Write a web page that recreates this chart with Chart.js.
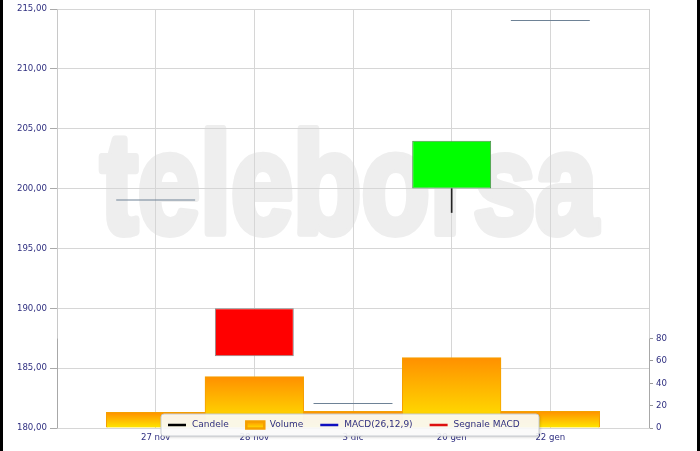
<!DOCTYPE html>
<html>
<head>
<meta charset="utf-8">
<script src="https://cdn.jsdelivr.net/npm/chart.js@4.4.1/dist/chart.umd.min.js"></script>
<style>
body { margin: 0; background: #000; }
#wrap { position: absolute; left: 3px; top: 0; width: 694px; height: 451px; background: #fff; }
</style>
</head>
<body>
<div id="wrap"><canvas id="chart"></canvas></div>
<script>
// empty labels at both ends leave the half-slot gap the original has
const labels = ['', '27 nov', '28 nov', '3 dic', '20 gen', '22 gen', ''];
const openP  = [null, 199, 190, 182, 200, 214, null];
const highP  = [null, 199, 190, 182, 204, 214, null];
const lowP   = [null, 199, 186, 182, 198, 214, null];
const closeP = [null, 199, 186, 182, 204, 214, null];
const volume = [null, 14, 46, 15, 63, 15, null];
const macd = [];
const signalMacd = [];
const volumeTicks = [0, 20, 40, 60, 80];

const navy = '#2f2f80';
const gridColor = '#d6d6d6';
const font = { family: 'DejaVu Sans', size: 8.6 };

function isFlat(i) { return openP[i] === closeP[i]; }

function candleColor(i) {
    if (closeP[i] > openP[i]) return '#00ff00';
    if (closeP[i] < openP[i]) return '#ff0000';
    return '#6e8296';
}

function candleBorder(i) {
    if (closeP[i] > openP[i]) return '#4f8f4f';
    return '#8c8c8c';
}

function volumeGradient(c, top, bottom) {
    const g = c.createLinearGradient(0, top, 0, bottom);
    g.addColorStop(0, '#ff9000');
    g.addColorStop(1, '#ffe800');
    return g;
}

function volumeFill(ctx) {
    const chart = ctx.chart;
    const y2 = chart.scales.y2;
    if (!y2 || ctx.raw == null) return '#ffb000';
    return volumeGradient(chart.ctx, y2.getPixelForValue(ctx.raw), y2.getPixelForValue(0));
}

const bodies = labels.map((l, i) => openP[i] == null ? null : [openP[i], closeP[i]]);
// wick pieces outside the body, left out when they have no length
const lowerWicks = labels.map((l, i) => {
    if (lowP[i] == null) return null;
    const b = Math.min(openP[i], closeP[i]);
    return lowP[i] < b ? [lowP[i], b] : null;
});
const upperWicks = labels.map((l, i) => {
    if (highP[i] == null) return null;
    const t = Math.max(openP[i], closeP[i]);
    return highP[i] > t ? [t, highP[i]] : null;
});

const watermark = {
    id: 'watermark',
    beforeDraw(chart) {
        const c = chart.ctx, a = chart.chartArea;
        c.save();
        c.fillStyle = '#eeeeee';
        c.strokeStyle = '#eeeeee';
        c.lineJoin = 'round';
        c.font = 'bold 142px "Liberation Sans"';
        c.textAlign = 'center';
        c.textBaseline = 'alphabetic';
        const w = c.measureText('teleborsa').width;
        c.translate(a.left + 292, 233);
        c.scale(497 / w, 1);
        c.lineWidth = 8;
        c.strokeText('teleborsa', 0, 0);
        c.fillText('teleborsa', 0, 0);
        c.restore();
    }
};

const volumeAxisLines = {
    id: 'volumeAxisLines',
    afterDatasetsDraw(chart) {
        const c = chart.ctx, a = chart.chartArea;
        const top = chart.scales.y2.getPixelForValue(volumeTicks[volumeTicks.length - 1]);
        c.save();
        c.strokeStyle = '#a8a8a8';
        c.lineWidth = 1;
        c.beginPath();
        c.moveTo(a.left + 0.5, top); c.lineTo(a.left + 0.5, a.bottom);
        c.moveTo(a.right + 0.5, top); c.lineTo(a.right + 0.5, a.bottom);
        c.stroke();
        c.restore();
    }
};

const legendBox = {
    id: 'legendBox',
    afterDraw(chart) {
        const c = chart.ctx, a = chart.chartArea;
        const x = a.left + 104, y = a.bottom - 14, w = 378, h = 22;
        c.save();
        c.shadowColor = 'rgba(0,0,0,0.25)';
        c.shadowBlur = 3;
        c.shadowOffsetX = 1;
        c.shadowOffsetY = 1;
        c.fillStyle = 'rgba(255,255,255,0.9)';
        c.beginPath();
        c.roundRect(x, y, w, h, 3);
        c.fill();
        c.shadowColor = 'transparent';
        c.strokeStyle = '#c8ccd2';
        c.lineWidth = 1;
        c.stroke();

        c.font = '9px "DejaVu Sans"';
        c.textBaseline = 'middle';
        const mid = y + 11;
        let px = x + 7;
        chart.data.datasets.forEach(ds => {
            if (ds.legend === false) return;
            if (ds.legendType === 'box') {
                c.fillStyle = volumeGradient(c, mid - 4, mid + 4);
                c.fillRect(px, mid - 4, 19, 8);
                c.strokeStyle = '#f5a000';
                c.strokeRect(px + 0.5, mid - 3.5, 18, 7);
            } else {
                c.strokeStyle = ds.legendColor;
                c.lineWidth = 2.5;
                c.beginPath();
                c.moveTo(px, mid);
                c.lineTo(px + 18, mid);
                c.stroke();
            }
            px += 24;
            c.fillStyle = navy;
            c.fillText(ds.label, px, mid);
            px += c.measureText(ds.label).width + 17;
        });
        c.restore();
    }
};

const wickStyle = {
    yAxisID: 'y',
    backgroundColor: '#222222',
    barThickness: 1,
    grouped: false,
    order: 1,
    legend: false
};

new Chart(document.getElementById('chart'), {
    type: 'bar',
    data: {
        labels: labels,
        datasets: [
            {
                label: 'Candele',
                data: bodies,
                yAxisID: 'y',
                backgroundColor: labels.map((l, i) => candleColor(i)),
                borderColor: labels.map((l, i) => candleBorder(i)),
                borderWidth: labels.map((l, i) => isFlat(i) ? 0 : 1),
                borderSkipped: false,
                barPercentage: 0.8,
                categoryPercentage: 1,
                grouped: false,
                minBarLength: 1,
                order: 0,
                legendColor: '#000000'
            },
            Object.assign({ label: 'lower wick', data: lowerWicks }, wickStyle),
            Object.assign({ label: 'upper wick', data: upperWicks }, wickStyle),
            {
                label: 'Volume',
                data: volume,
                yAxisID: 'y2',
                backgroundColor: volumeFill,
                borderColor: '#f5a000',
                borderWidth: 1,
                borderSkipped: 'bottom',
                barPercentage: 1,
                categoryPercentage: 1,
                grouped: false,
                order: 2,
                legendType: 'box'
            },
            {
                type: 'line',
                label: 'MACD(26,12,9)',
                data: macd,
                yAxisID: 'y',
                borderColor: '#1010c0',
                legendColor: '#1010c0'
            },
            {
                type: 'line',
                label: 'Segnale MACD',
                data: signalMacd,
                yAxisID: 'y',
                borderColor: '#dd1010',
                legendColor: '#dd1010'
            }
        ]
    },
    options: {
        responsive: true,
        maintainAspectRatio: false,
        animation: false,
        layout: { padding: { top: 9, left: 0, right: 0, bottom: 0 } },
        plugins: {
            legend: { display: false },
            tooltip: { enabled: false }
        },
        scales: {
            x: {
                type: 'category',
                offset: false,
                grid: { offset: false, color: gridColor, tickLength: 0 },
                border: { color: gridColor },
                ticks: { color: navy, font: font, padding: 5, maxRotation: 0, autoSkip: false },
                afterFit(s) { s.height = 23; }
            },
            y: {
                position: 'left',
                min: 180,
                max: 215,
                ticks: {
                    stepSize: 5,
                    color: navy,
                    font: font,
                    padding: 3,
                    callback: v => v.toFixed(2).replace('.', ',')
                },
                grid: { color: gridColor, tickLength: 7, tickColor: '#aaaaaa' },
                border: { color: '#c8c8c8' },
                afterFit(s) { s.width = 54; }
            },
            y2: {
                position: 'right',
                min: 0,
                max: 375,
                afterBuildTicks(s) { s.ticks = volumeTicks.map(v => ({ value: v })); },
                ticks: { color: navy, font: font, padding: 3 },
                grid: { drawOnChartArea: false, tickLength: 4, tickColor: '#999999' },
                border: { color: '#d0d0d0' },
                afterFit(s) { s.width = 48; }
            }
        }
    },
    plugins: [watermark, volumeAxisLines, legendBox]
});
</script>
</body>
</html>
